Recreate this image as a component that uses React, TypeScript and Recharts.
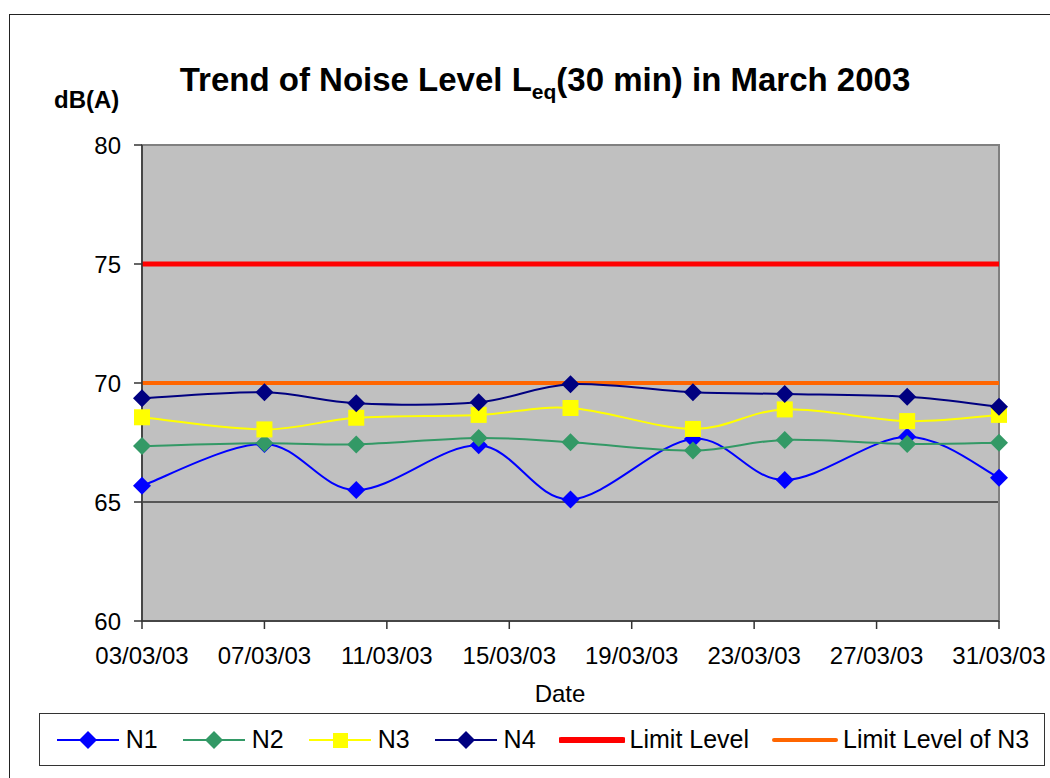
import { LineChart, Line, XAxis, YAxis, CartesianGrid, ReferenceArea } from 'recharts';

const days = [3, 7, 10, 14, 17, 21, 24, 28, 31];
const n1 = [65.68, 67.44, 65.5, 67.38, 65.11, 67.65, 65.92, 67.74, 66.02];
const n2 = [67.35, 67.47, 67.42, 67.69, 67.51, 67.16, 67.61, 67.44, 67.49];
const n3 = [68.56, 68.05, 68.54, 68.66, 68.95, 68.07, 68.89, 68.4, 68.66];
const n4 = [69.36, 69.61, 69.15, 69.19, 69.95, 69.61, 69.54, 69.42, 69.0];
const limitLevel = 75;
const limitLevelN3 = 70;
const xTicks = [3, 7, 11, 15, 19, 23, 27, 31];
const yTicks = [60, 65, 70, 75, 80];

const data = days.map((d, i) => ({
  day: d, N1: n1[i], N2: n2[i], N3: n3[i], N4: n4[i], limit: limitLevel, limitN3: limitLevelN3,
}));

const font = 'Arial, "Liberation Sans", sans-serif';

// Excel-like smoothed line (Catmull-Rom through points)
function excelCurve(context: any) {
  let pts: number[][] = [];
  return {
    areaStart() {},
    areaEnd() {},
    lineStart() { pts = []; },
    point(x: number, y: number) { pts.push([+x, +y]); },
    lineEnd() {
      if (!pts.length) return;
      context.moveTo(pts[0][0], pts[0][1]);
      for (let i = 0; i < pts.length - 1; i++) {
        const p0 = pts[i - 1] || pts[i];
        const p1 = pts[i];
        const p2 = pts[i + 1];
        const p3 = pts[i + 2] || pts[i + 1];
        context.bezierCurveTo(
          p1[0] + (p2[0] - p0[0]) / 6, p1[1] + (p2[1] - p0[1]) / 6,
          p2[0] - (p3[0] - p1[0]) / 6, p2[1] - (p3[1] - p1[1]) / 6,
          p2[0], p2[1],
        );
      }
    },
  };
}

const diamond = (color: string) => (p: any) => (
  <path key={`d-${color}-${p.index}`} d={`M${p.cx},${p.cy - 9}L${p.cx + 9},${p.cy}L${p.cx},${p.cy + 9}L${p.cx - 9},${p.cy}Z`} fill={color} />
);
const square = (color: string) => (p: any) => (
  <rect key={`s-${color}-${p.index}`} x={p.cx - 8} y={p.cy - 8} width={16} height={16} fill={color} />
);

const series = [
  { key: 'N1', name: 'N1', color: '#0000FF', marker: 'diamond' },
  { key: 'N2', name: 'N2', color: '#339966', marker: 'diamond' },
  { key: 'N3', name: 'N3', color: '#FFFF00', marker: 'square' },
  { key: 'N4', name: 'N4', color: '#000080', marker: 'diamond' },
  { key: 'limit', name: 'Limit Level', color: '#FF0000', marker: 'none' },
  { key: 'limitN3', name: 'Limit Level of N3', color: '#FF6600', marker: 'none' },
];

function LegendIcon({ color, marker, thick }: { color: string; marker: string; thick: number }) {
  return (
    <svg width={66} height={22} style={{ display: 'block' }}>
      <line x1={2} y1={11} x2={64} y2={11} stroke={color} strokeWidth={thick} strokeLinecap={thick > 2 ? 'round' : 'butt'} />
      {marker === 'diamond' && <path d="M33,2L42,11L33,20L24,11Z" fill={color} />}
      {marker === 'square' && <rect x={26} y={4} width={15} height={15} fill={color} />}
    </svg>
  );
}

export default function App() {
  return (
    <div style={{ position: 'absolute', left: 0, top: 0, width: 1050, height: 778, overflow: 'hidden', fontFamily: font, background: '#fff' }}>
      <div style={{ position: 'absolute', left: 9, top: 14, width: 1040, height: 800, border: '1px solid #222' }} />
      <div style={{ position: 'absolute', left: 0, width: 1090, top: 61, textAlign: 'center', fontSize: 33, fontWeight: 'bold', whiteSpace: 'nowrap' }}>
        Trend of Noise Level L<sub style={{ fontSize: 21 }}>eq</sub>(30 min) in March 2003
      </div>
      <div style={{ position: 'absolute', left: 54, top: 86, fontSize: 24, fontWeight: 'bold' }}>dB(A)</div>
      <div style={{ position: 'absolute', left: 0, width: 1120, top: 680, textAlign: 'center', fontSize: 24 }}>Date</div>
      <div style={{ position: 'absolute', left: 0, top: 0 }}>
        <LineChart width={1050} height={778} data={data} margin={{ top: 145, right: 51, bottom: 97, left: 0 }}>
          <CartesianGrid vertical={false} fill="#C0C0C0" stroke="#333" strokeWidth={1.5} />
          <ReferenceArea x1={3} x2={31} y1={60} y2={80} fill="none" stroke="#808080" strokeWidth={2} />
          <XAxis
            type="number" dataKey="day" domain={[3, 31]} ticks={xTicks} height={60}
            tickFormatter={(d: number) => `${String(d).padStart(2, '0')}/03/03`}
            tick={{ fontSize: 24, fill: '#000', fontFamily: font }}
            stroke="#333" strokeWidth={1.5} tickSize={8} tickMargin={18} interval={0}
          />
          <YAxis
            domain={[60, 80]} ticks={yTicks} width={142}
            tick={{ fontSize: 24, fill: '#000', fontFamily: font }}
            stroke="#333" strokeWidth={1.5} tickSize={8} tickMargin={13}
          />
          <Line dataKey="limit" stroke="#FF0000" strokeWidth={5} dot={false} isAnimationActive={false} />
          <Line dataKey="limitN3" stroke="#FF6600" strokeWidth={4} dot={false} isAnimationActive={false} />
          <Line dataKey="N1" type={excelCurve as any} stroke="#0000FF" strokeWidth={2} dot={diamond('#0000FF')} activeDot={false} isAnimationActive={false} />
          <Line dataKey="N2" type={excelCurve as any} stroke="#339966" strokeWidth={2} dot={diamond('#339966')} activeDot={false} isAnimationActive={false} />
          <Line dataKey="N3" type={excelCurve as any} stroke="#FFFF00" strokeWidth={2} dot={square('#FFFF00')} activeDot={false} isAnimationActive={false} />
          <Line dataKey="N4" type={excelCurve as any} stroke="#000080" strokeWidth={2} dot={diamond('#000080')} activeDot={false} isAnimationActive={false} />
        </LineChart>
      </div>
      <div style={{
        position: 'absolute', left: 39, top: 713, width: 1004, height: 51, border: '1px solid #333',
        display: 'flex', alignItems: 'center', justifyContent: 'center', gap: 23, fontSize: 25,
      }}>
        {series.map((s) => (
          <div key={s.key} style={{ display: 'flex', alignItems: 'center', gap: 5 }}>
            <LegendIcon color={s.color} marker={s.marker} thick={s.key === 'limit' ? 6 : s.key === 'limitN3' ? 4 : 2} />
            <span>{s.name}</span>
          </div>
        ))}
      </div>
    </div>
  );
}
